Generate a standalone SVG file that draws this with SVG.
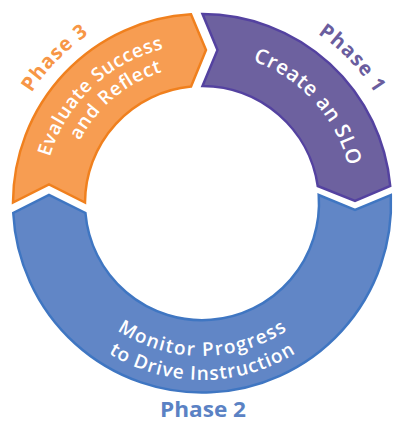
<svg xmlns="http://www.w3.org/2000/svg" width="395" height="421" viewBox="0 0 395 421">
  <style>
    .seg { stroke-width: 2.5; stroke-linejoin: miter; }
    .orange { fill: #F79D52; stroke: #F0801E; }
    .purple { fill: #6D619F; stroke: #5442A0; }
    .blue { fill: #6186C6; stroke: #3F76C2; }
    .inner { font-family: "Open Sans", "Noto Sans", sans-serif; fill: #FFFFFF; font-weight: 600; }
    .phase { font-family: "Open Sans", "Noto Sans", sans-serif; font-weight: 700; }
  </style>
  <defs>
    <path id="pOrange1" d="M 43.31 212.98 A 159 159 0 0 1 219.72 44.99"/>
    <path id="pOrange2" d="M 65 203 A 137 137 0 0 1 225.79 68.08"/>
    <path id="pPurple" d="M 196.07 52.12 A 151 151 0 0 1 351.62 223.36"/>
    <path id="pPhase1" d="M 187.70 -1.50 A 205 205 0 0 1 405.88 224.43"/>
    <path id="pPhase3" d="M -0.07 222.46 A 203 203 0 0 1 217.93 0.63"/>
    <path id="pBlue1" d="M 84.80 301.35 A 153 153 0 0 0 319.20 301.35"/>
    <path id="pBlue2" d="M 66.41 316.77 A 177 177 0 0 0 337.59 316.77"/>
  </defs>

  <g id="phase3">
    <path class="seg orange" d="M 13 202.5 A 189 189 0 0 1 191 14.32 L 206 50 L 191 86.52 A 117 117 0 0 0 85 202.5 L 49 184.5 Z"/>
    <text class="inner" font-size="19"><textPath href="#pOrange1" startOffset="50%" text-anchor="middle" textLength="164" lengthAdjust="spacing">Evaluate Success</textPath></text>
    <text class="inner" font-size="19"><textPath href="#pOrange2" startOffset="50%" text-anchor="middle" textLength="110" lengthAdjust="spacing">and Reflect</textPath></text>
    <text class="phase" font-size="20" fill="#F79646"><textPath href="#pPhase3" startOffset="50%" text-anchor="middle" textLength="82" lengthAdjust="spacing">Phase 3</textPath></text>
  </g>

  <g id="phase1">
    <path class="seg purple" d="M 202.5 14 A 189 189 0 0 1 390.23 186 L 355 201 L 317.76 186 A 117 117 0 0 0 202.5 86 L 217.5 50 Z"/>
    <text class="inner" font-size="20.5"><textPath href="#pPurple" startOffset="50%" text-anchor="middle" textLength="148" lengthAdjust="spacing">Create an SLO</textPath></text>
    <text class="phase" font-size="20" fill="#6A5D9E"><textPath href="#pPhase1" startOffset="50%" text-anchor="middle" textLength="83" lengthAdjust="spacing">Phase 1</textPath></text>
  </g>

  <g id="phase2">
    <path class="seg blue" d="M 390.83 195 A 189 189 0 0 1 13.26 213 L 49 195 L 85.43 213 A 117 117 0 0 0 318.73 195 L 355 210 Z"/>
    <text class="inner" font-size="19"><textPath href="#pBlue1" startOffset="50%" text-anchor="middle" textLength="180" lengthAdjust="spacing">Monitor Progress</textPath></text>
    <text class="inner" font-size="19"><textPath href="#pBlue2" startOffset="50%" text-anchor="middle" textLength="197" lengthAdjust="spacing">to Drive Instruction</textPath></text>
    <text class="phase" x="203" y="417" font-size="22" fill="#5B82C4" text-anchor="middle" textLength="86" lengthAdjust="spacingAndGlyphs">Phase 2</text>
  </g>
</svg>
